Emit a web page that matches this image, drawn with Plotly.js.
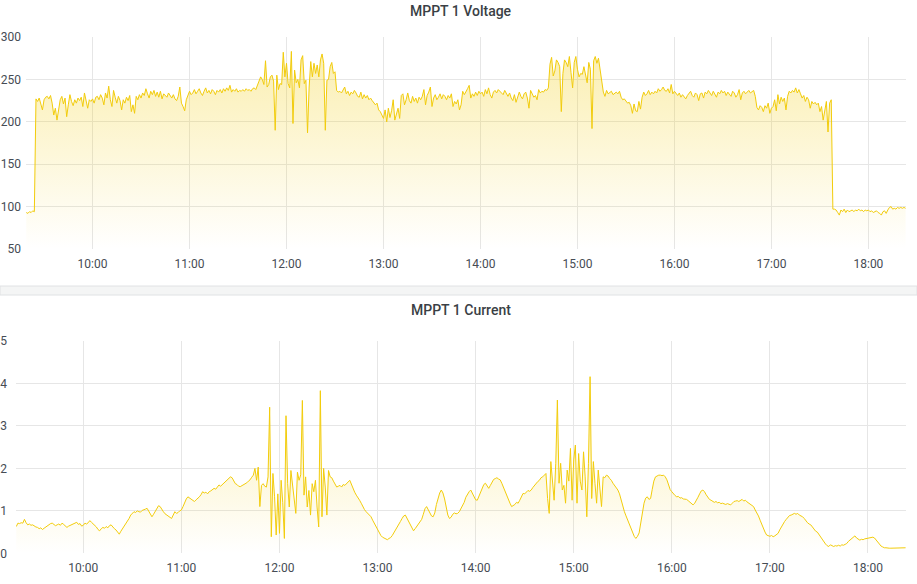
<!DOCTYPE html>
<html>
<head>
<meta charset="utf-8">
<script src="https://cdn.plot.ly/plotly-3.0.1.min.js"></script>
<style>
  html, body { margin: 0; padding: 0; background: #fff; }
  #plotarea { width: 917px; height: 584px; }
</style>
</head>
<body>
<div id="plotarea"></div>
<script>
// one sample per minute, first sample at 09:19
let day = '2024-01-01';
let startTime = '09:19';

let voltage = [
    93,92,94,93,95,94,227,224,228,220,
    214,226,229,230,227,231,222,208,216,202,
    213,226,230,221,228,206,220,232,224,219,
    226,222,228,225,229,218,234,225,216,226,
    224,227,222,229,230,226,232,228,220,234,
    228,242,226,218,237,229,222,230,225,214,
    226,222,229,225,231,212,220,210,230,226,
    232,228,234,231,239,233,228,236,232,237,
    230,235,229,236,227,233,231,229,234,230,
    228,232,227,225,230,241,222,218,213,226,
    231,236,232,234,238,233,236,239,234,231,
    236,240,234,237,233,238,236,232,237,235,
    238,234,239,236,240,237,243,235,238,236,
    239,235,237,236,238,236,239,237,238,236,
    239,240,238,242,248,253,250,244,272,241,
    244,253,255,248,190,255,238,245,244,282,
    253,269,245,240,283,198,261,246,250,240,
    273,278,245,249,187,241,271,253,269,257,
    267,253,273,280,269,190,249,250,265,270,
    257,259,237,235,236,234,237,241,233,236,
    231,235,233,237,234,230,229,235,227,232,
    228,231,226,228,225,223,220,222,214,212,
    208,204,214,200,216,205,213,226,202,210,
    216,204,231,233,220,226,234,225,222,230,
    224,228,222,229,226,230,238,220,231,235,
    241,218,228,232,226,229,233,227,232,230,
    226,231,228,233,218,224,221,226,214,220,
    236,232,235,239,243,228,233,230,235,231,
    236,233,235,230,238,233,240,232,228,235,
    237,234,238,236,235,232,237,233,230,234,
    228,225,232,223,229,235,230,227,233,235,
    228,216,237,233,229,231,226,238,234,236,
    235,238,237,240,268,276,254,260,273,270,
    265,212,257,273,270,265,277,258,240,270,
    277,262,253,257,256,265,257,246,270,262,
    192,272,277,269,275,262,246,235,230,237,
    233,235,236,232,234,235,233,236,229,226,
    227,225,222,223,219,210,221,213,212,224,
    215,229,235,231,233,237,232,235,233,236,
    234,239,236,238,241,237,236,239,234,244,
    233,236,233,231,234,229,232,230,227,231,
    233,236,231,229,234,232,225,233,234,228,
    235,233,237,234,231,236,232,229,235,233,
    237,234,236,231,235,233,230,236,234,229,
    232,238,226,234,236,233,235,237,234,236,
    237,230,217,214,219,217,212,219,216,222,
    210,216,218,226,213,232,221,229,224,228,
    214,230,236,234,237,235,240,234,238,233,
    228,231,224,229,226,216,224,221,223,220,
    222,212,218,202,215,224,188,222,226,97,
    97,96,93,90,96,94,97,93,96,94,
    95,96,94,96,95,97,95,96,94,96,
    95,96,94,95,93,94,95,93,92,90,
    94,95,92,96,99,100,97,98,97,99,
    98,99,98,99,98
];

let current = [
    0.63,0.71,0.70,0.72,0.71,0.80,0.72,0.67,0.69,0.66,
    0.67,0.64,0.62,0.61,0.58,0.60,0.56,0.59,0.62,0.63,
    0.66,0.70,0.71,0.68,0.65,0.67,0.69,0.66,0.71,0.68,
    0.65,0.61,0.64,0.66,0.67,0.70,0.72,0.73,0.68,0.70,
    0.64,0.66,0.71,0.69,0.72,0.77,0.73,0.70,0.67,0.62,
    0.56,0.53,0.58,0.61,0.59,0.63,0.60,0.65,0.67,0.62,
    0.58,0.55,0.50,0.45,0.52,0.58,0.61,0.70,0.76,0.82,
    0.90,0.95,0.98,0.96,1.00,0.98,0.97,1.01,1.02,1.04,
    1.06,0.98,0.94,0.86,0.92,0.98,1.05,1.12,1.10,1.03,
    0.98,0.93,0.90,0.88,0.85,0.82,0.90,0.98,0.94,0.96,
    1.00,1.02,1.10,1.20,1.28,1.33,1.30,1.27,1.24,1.22,
    1.26,1.29,1.33,1.38,1.45,1.42,1.44,1.40,1.45,1.47,
    1.50,1.53,1.51,1.55,1.61,1.58,1.62,1.66,1.69,1.72,
    1.76,1.80,1.78,1.69,1.64,1.62,1.58,1.57,1.59,1.61,
    1.63,1.66,1.70,1.73,1.79,1.84,2.00,1.72,2.03,1.10,
    1.60,1.64,1.58,1.56,1.80,3.44,0.39,1.88,1.33,0.43,
    1.40,0.47,1.72,1.20,0.35,3.24,1.64,1.09,1.95,1.60,
    1.37,0.94,1.91,1.72,1.85,3.60,1.37,1.80,1.09,1.48,
    0.90,1.64,1.45,1.72,1.09,0.62,3.83,0.86,2.00,1.56,
    0.90,1.95,1.80,1.78,1.70,1.62,1.56,1.58,1.60,1.56,
    1.62,1.60,1.63,1.68,1.72,1.62,1.52,1.44,1.37,1.32,
    1.25,1.18,1.09,1.03,0.98,0.94,0.90,0.86,0.78,0.70,
    0.62,0.55,0.47,0.42,0.38,0.36,0.33,0.32,0.35,0.37,
    0.42,0.48,0.55,0.62,0.68,0.75,0.82,0.88,0.90,0.82,
    0.74,0.65,0.58,0.53,0.58,0.64,0.68,0.75,0.80,0.92,
    1.05,1.10,1.02,0.95,0.88,0.86,0.95,1.15,1.32,1.42,
    1.49,1.42,1.28,1.05,0.90,0.82,0.85,0.92,0.95,0.93,
    0.94,0.98,1.05,1.10,1.20,1.32,1.40,1.45,1.49,1.42,
    1.32,1.26,1.25,1.35,1.45,1.56,1.62,1.65,1.58,1.53,
    1.60,1.68,1.74,1.76,1.78,1.75,1.73,1.65,1.55,1.45,
    1.36,1.27,1.18,1.10,1.12,1.15,1.20,1.18,1.25,1.33,
    1.41,1.40,1.44,1.48,1.46,1.49,1.55,1.60,1.65,1.69,
    1.72,1.78,1.80,1.85,1.88,1.29,0.94,2.16,1.57,1.25,
    2.12,3.61,1.65,2.12,1.49,1.60,1.18,1.96,1.70,2.47,
    1.25,2.20,2.55,1.18,2.35,1.70,1.49,2.39,1.80,0.86,
    2.12,4.16,1.29,2.16,1.65,1.18,1.96,1.49,1.10,1.80,
    1.78,1.84,1.82,1.76,1.72,1.65,1.60,1.55,1.49,1.40,
    1.25,1.10,0.98,0.88,0.78,0.68,0.60,0.50,0.40,0.35,
    0.40,0.48,0.70,1.00,1.18,1.30,1.33,1.27,1.29,1.50,
    1.70,1.80,1.83,1.84,1.84,1.83,1.84,1.80,1.73,1.60,
    1.50,1.45,1.40,1.36,1.33,1.34,1.30,1.31,1.28,1.27,
    1.27,1.24,1.20,1.16,1.14,1.18,1.24,1.32,1.40,1.47,
    1.49,1.45,1.38,1.32,1.27,1.25,1.22,1.20,1.22,1.19,
    1.20,1.17,1.18,1.16,1.15,1.17,1.16,1.14,1.18,1.22,
    1.23,1.24,1.22,1.25,1.27,1.23,1.25,1.21,1.18,1.16,
    1.14,1.10,1.02,0.96,0.88,0.78,0.68,0.58,0.50,0.43,
    0.41,0.40,0.42,0.39,0.41,0.45,0.47,0.55,0.63,0.70,
    0.75,0.80,0.85,0.89,0.90,0.93,0.94,0.92,0.94,0.90,
    0.88,0.86,0.82,0.76,0.72,0.69,0.67,0.62,0.57,0.52,
    0.50,0.44,0.38,0.31,0.25,0.22,0.18,0.16,0.20,0.17,
    0.16,0.18,0.17,0.19,0.17,0.20,0.19,0.21,0.23,0.28,
    0.31,0.33,0.38,0.41,0.36,0.33,0.31,0.33,0.32,0.34,
    0.35,0.35,0.37,0.38,0.38,0.36,0.31,0.26,0.22,0.17,
    0.15,0.13,0.13,0.12,0.12,0.12,0.12,0.12,0.12,0.12,
    0.12,0.13,0.12,0.13,0.13
];

let timeRange = [day + ' 09:18:50', day + ' 18:23:15'];

function minuteStamps(start, n){
    let parts = start.split(':');
    let m0 = parseInt(parts[0])*60 + parseInt(parts[1]);
    let out = [];
    for(let i = 0; i < n; i++){
        let m = m0 + i;
        let hh = String(Math.floor(m/60)).padStart(2, '0');
        let mm = String(m%60).padStart(2, '0');
        out.push(day + ' ' + hh + ':' + mm + ':00');
    }
    return out;
}

let yellow = '#F2CC0C';
let gridColor = '#e6e6e6';
let tickFont = {family: 'Roboto, sans-serif', size: 12, color: '#464c54'};
let W = 917, H = 584;

function panelTrace(values, xa, ya, low){
    return {
        x: minuteStamps(startTime, values.length),
        y: values,
        xaxis: xa,
        yaxis: ya,
        type: 'scatter',
        mode: 'lines',
        line: {color: yellow, width: 1},
        fill: 'tozeroy',
        fillgradient: {
            type: 'vertical',
            start: low,
            stop: Math.max(...values),
            colorscale: [[0, 'rgba(242,204,12,0)'], [1, 'rgba(242,204,12,0.32)']]
        },
        hoverinfo: 'skip'
    };
}

let xCommon = {
    type: 'date',
    range: timeRange,
    dtick: 3600000,
    tickformat: '%H:%M',
    showgrid: true,
    gridcolor: gridColor,
    zeroline: false,
    showline: false,
    ticks: '',
    tickfont: tickFont,
    ticklabelstandoff: 6,
    fixedrange: true
};
let yCommon = {
    showgrid: true,
    gridcolor: gridColor,
    zeroline: false,
    showline: false,
    ticks: '',
    tickfont: tickFont,
    fixedrange: true
};

let layout = {
    width: W,
    height: H,
    margin: {l: 0, r: 0, t: 0, b: 0},
    paper_bgcolor: '#ffffff',
    plot_bgcolor: '#ffffff',
    showlegend: false,
    xaxis: Object.assign({}, xCommon, {domain: [26/W, 906/W], anchor: 'y'}),
    yaxis: Object.assign({}, yCommon, {domain: [1 - 249/H, 1 - 37/H], anchor: 'x', range: [50, 300], dtick: 50, tick0: 50, ticklabelstandoff: 4}),
    xaxis2: Object.assign({}, xCommon, {domain: [16/W, 906/W], anchor: 'y2'}),
    yaxis2: Object.assign({}, yCommon, {domain: [1 - 553.3/H, 1 - 341/H], anchor: 'x2', range: [0, 5], dtick: 1, tick0: 0, ticklabelstandoff: 8}),
    shapes: [{
        type: 'rect', xref: 'paper', yref: 'paper',
        x0: 0, x1: 1, y0: 1 - 295/H, y1: 1 - 286/H,
        fillcolor: '#f4f5f5',
        line: {color: '#e0e2e4', width: 1},
        layer: 'below'
    }],
    annotations: [
        {text: 'MPPT 1 Voltage', xref: 'paper', yref: 'paper', x: 461/W, y: 1 - 1/H,
         xanchor: 'center', yanchor: 'top', showarrow: false,
         font: {family: 'Roboto, sans-serif', size: 14, weight: 500, color: '#3a3f45'}},
        {text: 'MPPT 1 Current', xref: 'paper', yref: 'paper', x: 461/W, y: 1 - 310/H,
         xanchor: 'center', yanchor: 'middle', showarrow: false,
         font: {family: 'Roboto, sans-serif', size: 14, weight: 500, color: '#3a3f45'}}
    ]
};

Plotly.newPlot('plotarea', [
    panelTrace(voltage, 'x', 'y', 50),
    panelTrace(current, 'x2', 'y2', 0)
], layout, {displayModeBar: false, staticPlot: true});
</script>
</body>
</html>
